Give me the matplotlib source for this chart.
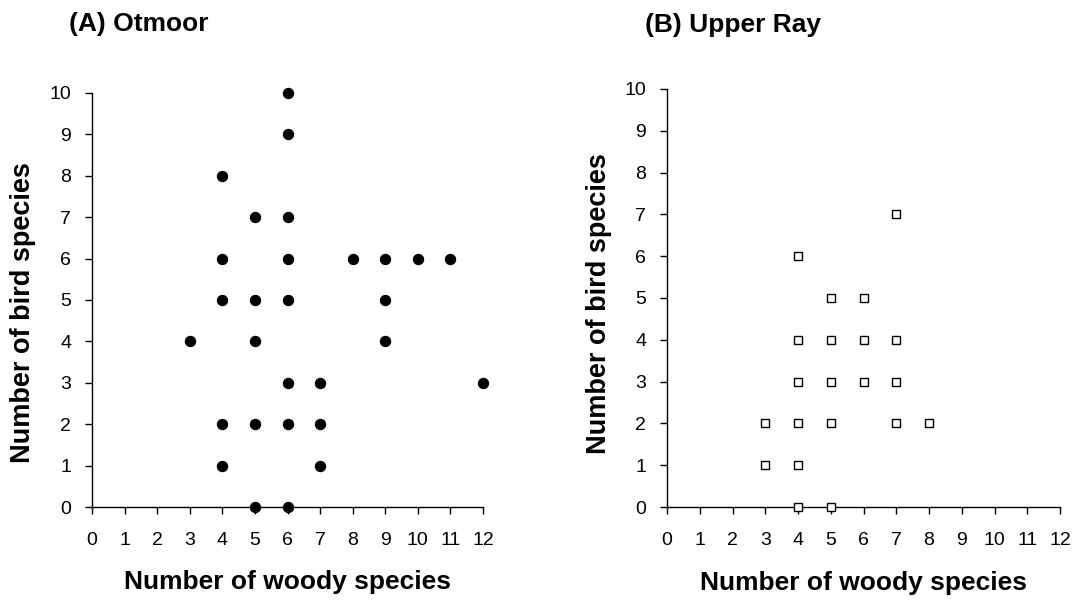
import matplotlib
matplotlib.use("Agg")
import matplotlib.pyplot as plt

plt.rcParams["font.family"] = ["Liberation Sans", "DejaVu Sans"]

# --- data ---
otmoor_woody = [3, 4, 4, 4, 4, 4, 5, 5, 5, 5, 5, 6, 6, 6, 6, 6, 6, 6, 6,
                7, 7, 7, 8, 9, 9, 9, 10, 11, 12]
otmoor_birds = [4, 8, 6, 5, 2, 1, 7, 5, 4, 2, 0, 10, 9, 7, 6, 5, 3, 2, 0,
                3, 2, 1, 6, 6, 5, 4, 6, 6, 3]

ray_woody = [3, 3, 4, 4, 4, 4, 4, 4, 5, 5, 5, 5, 5, 6, 6, 6, 7, 7, 7, 7, 8]
ray_birds = [2, 1, 6, 4, 3, 2, 1, 0, 5, 4, 3, 2, 0, 5, 4, 3, 7, 4, 3, 2, 2]

x_ticks = list(range(0, 13))
y_ticks = list(range(0, 11))

W, H = 1076, 600
fig = plt.figure(figsize=(W / 100, H / 100), dpi=100)

# axes boxes in pixels (left, right, top, bottom)
ax_a = fig.add_axes([92 / W, 1 - 507 / H, (483 - 92) / W, (507 - 93) / H])
ax_b = fig.add_axes([667 / W, 1 - 507 / H, (1060 - 667) / W, (507 - 89) / H])

ax_a.plot(otmoor_woody, otmoor_birds, linestyle="none", marker="o",
          markersize=7.2, color="black", clip_on=False, zorder=3)
ax_b.plot(ray_woody, ray_birds, linestyle="none", marker="s",
          markersize=5.6, markerfacecolor="white", markeredgecolor="black",
          markeredgewidth=1.0, clip_on=False, zorder=3)

for ax in (ax_a, ax_b):
    ax.set_xlim(0, 12)
    ax.set_ylim(0, 10)
    ax.set_xticks(x_ticks)
    ax.set_yticks(y_ticks)
    ax.spines["top"].set_visible(False)
    ax.spines["right"].set_visible(False)
    ax.spines["left"].set_linewidth(1.0)
    ax.spines["bottom"].set_linewidth(1.0)
    ax.tick_params(axis="x", direction="out", length=5, width=1,
                   labelsize=14, pad=13)
    ax.tick_params(axis="y", direction="out", length=5, width=1,
                   labelsize=14, pad=10)
    ax.set_xlabel("Number of woody species", fontsize=19, fontweight="bold")
    ax.set_ylabel("Number of bird species", fontsize=19.5, fontweight="bold")
    ax.xaxis.label.set_verticalalignment("center")
    ax.yaxis.label.set_verticalalignment("center")
    ax.xaxis.set_label_coords(0.5, -0.181)

ax_a.yaxis.set_label_coords(-0.176, 0.47)
ax_b.yaxis.set_label_coords(-0.173, 0.486)

fig.text(69 / W, 1 - 24 / H, "(A) Otmoor", fontsize=19, fontweight="bold",
         ha="left", va="center")
fig.text(645 / W, 1 - 25 / H, "(B) Upper Ray", fontsize=19, fontweight="bold",
         ha="left", va="center")

fig.savefig("out.png", dpi=100)
